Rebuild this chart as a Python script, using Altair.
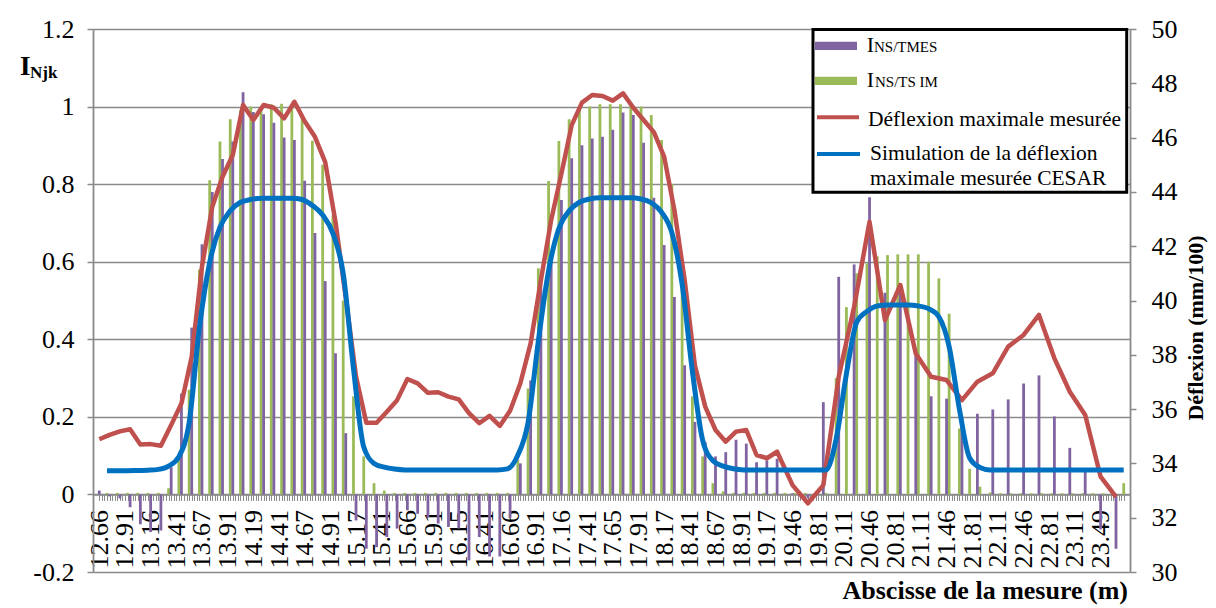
import altair as alt
import pandas as pd

# ---------------- data ----------------
x_labels = ['12.66', '12.91', '13.16', '13.41', '13.67', '13.91', '14.19', '14.41', '14.67', '14.91',
            '15.17', '15.41', '15.66', '15.91', '16.15', '16.41', '16.66', '16.91', '17.16', '17.41',
            '17.65', '17.91', '18.17', '18.41', '18.67', '18.91', '19.17', '19.46', '19.81', '20.11',
            '20.46', '20.81', '21.11', '21.46', '21.81', '22.11', '22.46', '22.81', '23.11', '23.49']

# category index along the x axis (400 categories, one label every 10)
mes_pos = [0, 4, 8, 12, 16, 20, 24, 28, 32, 36, 40, 44, 48, 52, 56, 60, 64, 68, 72, 76,
           80, 84, 88, 92, 96, 100, 104, 108, 112, 116, 120, 124, 128, 132, 136, 140, 144, 148, 152, 156,
           160, 164, 168, 172, 176, 180, 184, 188, 192, 196, 200, 204, 208, 212, 216, 220, 224, 228, 232, 236,
           240, 244, 248, 252, 256, 260, 264,
           270, 276, 282, 288, 294, 300, 306, 312, 318, 324, 330, 336, 342, 348, 354, 360, 366, 372, 378, 384,
           390, 396]

ins_tmes = [0.01, -0.005, -0.01, -0.033, -0.077, -0.097, -0.093, 0.07, 0.26, 0.43,
            0.645, 0.78, 0.865, 0.91, 1.037, 0.986, 0.98, 0.958, 0.92, 0.914,
            0.809, 0.674, 0.55, 0.364, 0.158, -0.067, -0.14, -0.136, -0.11, -0.088,
            -0.041, -0.05, -0.059, -0.075, -0.084, -0.088, -0.17, -0.11, -0.16, -0.16,
            -0.06, 0.08, 0.294, 0.55, 0.62, 0.759, 0.867, 0.90, 0.918, 0.922,
            0.94, 0.985, 0.978, 0.907, 0.765, 0.643, 0.509, 0.333, 0.187, 0.135,
            0.098, 0.109, 0.141, 0.131, 0.083, 0.088, 0.092,
            0.003, -0.01, 0.238, 0.561, 0.593, 0.766, 0.52, 0.539, 0.359, 0.253,
            0.247, 0.2, 0.208, 0.219, 0.245, 0.286, 0.307, 0.201, 0.12, 0.06,
            -0.09, -0.14]

deflexion_mesuree = [34.89, 35.05, 35.18, 35.26, 34.7, 34.71, 34.65, 35.41, 36.21, 37.93,
                     41.25, 43.45, 44.56, 45.36, 47.2, 46.65, 47.2, 47.1, 46.71, 47.32,
                     46.6, 46.03, 45.1, 42.9, 40.1, 37.2, 35.5, 35.5, 35.9, 36.33,
                     37.11, 36.95, 36.6, 36.62, 36.46, 36.36, 35.85, 35.48, 35.75, 35.38,
                     35.94, 36.95, 38.42, 40.75, 42.96, 44.68, 46.46, 47.29, 47.57, 47.53,
                     47.36, 47.63, 47.1, 46.65, 46.2, 45.3, 43.33, 40.75, 37.6, 36.09,
                     35.23, 34.8, 35.17, 35.23, 34.31, 34.19, 34.43,
                     33.2, 32.53, 33.2, 37.19, 39.77, 42.9, 39.28, 40.57, 38.05, 37.19,
                     37.07, 36.33, 37.01, 37.32, 38.3, 38.73, 39.47, 37.87, 36.64, 35.78,
                     33.51, 32.77]

sim_pos = [3, 7, 11, 15, 19, 23, 27, 31, 35, 39, 43, 47, 51, 55, 59, 63, 67, 71, 75, 79,
           83, 87, 91, 95, 99, 103, 107, 111, 115, 119, 123, 127, 131, 135, 139, 143, 147, 151, 155, 159,
           163, 167, 171, 175, 179, 183, 187, 191, 195, 199, 203, 207, 211, 215, 219, 223, 227, 231, 235, 239,
           243, 247, 251, 255, 259, 263, 267, 271, 275, 279, 283, 287, 291, 295, 299, 303, 307, 311, 315, 319,
           323, 327, 331, 335, 339, 343, 347, 351, 355, 359, 363, 367, 371, 375, 379, 383, 387, 391, 395, 399]

ins_tsim = [0.004, 0.004, 0.004, 0.004, 0.004, 0.004, 0.016, 0.1, 0.27, 0.58,
            0.81, 0.91, 0.967, 0.99, 1.0, 1.0, 1.006, 1.007, 1.0, 0.978,
            0.912, 0.85, 0.72, 0.5, 0.253, 0.098, 0.029, 0.01, 0.004, 0.004,
            0.004, 0.004, 0.004, 0.004, 0.004, 0.004, 0.004, 0.004, 0.004, 0.004,
            0.09, 0.273, 0.583, 0.808, 0.911, 0.967, 0.991, 1.0, 1.006, 1.006,
            1.006, 1.006, 1.0, 0.978, 0.914, 0.8, 0.58, 0.253, 0.098, 0.029,
            0.008, 0.004, 0.004, 0.004, 0.004, 0.004, 0.004, 0.004, 0.004, 0.004,
            0.004, 0.3, 0.483, 0.57, 0.596, 0.614, 0.617, 0.619, 0.619, 0.619,
            0.6, 0.557, 0.466, 0.17, 0.066, 0.02, 0.005, 0.003, 0.003, 0.003,
            0.003, 0.003, 0.003, 0.003, 0.003, 0.003, 0.003, 0.003, 0.003, 0.029]

deflexion_cesar = [33.73, 33.73, 33.73, 33.74, 33.75, 33.78, 33.9, 34.25, 35.5, 39.0,
                   41.4, 42.7, 43.3, 43.62, 43.72, 43.77, 43.77, 43.77, 43.77, 43.72,
                   43.5, 43.15, 42.47, 41.0, 37.5, 34.6, 34.0, 33.86, 33.79, 33.76,
                   33.76, 33.76, 33.76, 33.76, 33.76, 33.76, 33.76, 33.76, 33.76, 33.8,
                   34.3, 35.5, 38.5, 41.1, 42.65, 43.3, 43.62, 43.74, 43.78, 43.78,
                   43.78, 43.78, 43.74, 43.6, 43.25, 42.5, 40.6, 37.4, 34.86, 34.1,
                   33.9, 33.8, 33.76, 33.76, 33.76, 33.76, 33.76, 33.76, 33.76, 33.76,
                   33.76, 34.9, 37.3, 39.2, 39.6, 39.8, 39.83, 39.83, 39.83, 39.8,
                   39.7, 39.4, 38.3, 36.0, 34.2, 33.85, 33.76, 33.76, 33.76, 33.76,
                   33.76, 33.76, 33.76, 33.76, 33.76, 33.76, 33.76, 33.76, 33.76, 33.76]

left_ticks = [-0.2, 0, 0.2, 0.4, 0.6, 0.8, 1.0, 1.2]
right_ticks = [30, 32, 34, 36, 38, 40, 42, 44, 46, 48, 50]

# ---------------- styling ----------------
FONT = "'Liberation Serif', 'Times New Roman', Times, 'DejaVu Serif', serif"
PURPLE = '#8064A2'
GREEN = '#9BBB59'
RED = '#C0504D'
BLUE = '#0070C0'
GRID = '#8A8A8A'
W, H = 1037, 543
Y0_OFFSET = -(H - H * 1.2 / 1.4)   # x axis crosses the left axis at 0

df_mes = pd.DataFrame({'pos': mes_pos, 'ins': ins_tmes, 'defl': deflexion_mesuree})
df_sim = pd.DataFrame({'pos': sim_pos, 'ins': ins_tsim, 'defl': deflexion_cesar})

label_array = '[' + ','.join("'" + s + "'" for s in x_labels) + ']'
x_axis = alt.Axis(values=list(range(0, 400)), title='', grid=False,
                  labelExpr="datum.value % 10 == 0 ? " + label_array + "[datum.value / 10] : ''",
                  labelAngle=-90, labelFont=FONT, labelFontSize=26, labelColor='black',
                  labelPadding=9, labelOverlap=False, labelFlush=False, labelBound=False,
                  tickSize=6, tickColor=GRID, tickWidth=1, domainColor=GRID, domainWidth=1.8,
                  offset=Y0_OFFSET)
x_enc = alt.X('pos:Q', scale=alt.Scale(domain=[-0.5, 399.5], nice=False, zero=False), axis=x_axis)

left_axis = alt.Axis(values=left_ticks, title='', orient='left', grid=True, gridColor=GRID, gridWidth=1.6,
                     labelExpr='toString(round(datum.value * 10) / 10)',
                     labelFont=FONT, labelFontSize=26, labelColor='black', labelPadding=13,
                     tickSize=6, tickColor=GRID, tickWidth=1.5, domainColor=GRID, domainWidth=1.8)
y_left = alt.Y('ins:Q', scale=alt.Scale(domain=[-0.2, 1.2], nice=False), axis=left_axis)

right_axis = alt.Axis(values=right_ticks, title='', orient='right', grid=False,
                      labelFont=FONT, labelFontSize=26, labelColor='black', labelPadding=15,
                      tickSize=6, tickColor=GRID, tickWidth=1.5, domainColor=GRID, domainWidth=1.8)
y_right = alt.Y('defl:Q', scale=alt.Scale(domain=[30, 50], nice=False, zero=False), axis=right_axis)

green_bars = alt.Chart(df_sim).mark_bar(size=2.8, color=GREEN).encode(x=x_enc, y=y_left)
purple_bars = alt.Chart(df_mes).mark_bar(size=2.8, color=PURPLE).encode(x=x_enc, y=y_left)
bars = alt.layer(green_bars, purple_bars)

red_line = alt.Chart(df_mes).mark_line(color=RED, strokeWidth=4.5, strokeJoin='round').encode(x=x_enc, y=y_right)
blue_line = alt.Chart(df_sim).mark_line(color=BLUE, strokeWidth=5, interpolate='monotone',
                                        strokeJoin='round').encode(x=x_enc, y=y_right)
lines = alt.layer(red_line, blue_line)


def txt(t, x, y, size=21, bold=False, align='left', angle=0):
    kw = dict(align=align, baseline='alphabetic', font=FONT, fontSize=size, color='black')
    if bold:
        kw['fontWeight'] = 'bold'
    if angle:
        kw['angle'] = angle
    return alt.Chart(pd.DataFrame({'t': [t]})).mark_text(**kw).encode(
        x=alt.value(x), y=alt.value(y), text='t:N')


def box(x1, x2, y1, y2, fill, stroke=None, sw=0):
    kw = dict(fill=fill)
    if stroke:
        kw.update(stroke=stroke, strokeWidth=sw)
    return alt.Chart(pd.DataFrame({'a': [0]})).mark_rect(**kw).encode(
        x=alt.value(x1), x2=alt.value(x2), y=alt.value(y1), y2=alt.value(y2))


def seg(x1, x2, y, color, sw):
    return alt.Chart(pd.DataFrame({'a': [0]})).mark_rule(color=color, strokeWidth=sw).encode(
        x=alt.value(x1), x2=alt.value(x2), y=alt.value(y))


legend = alt.layer(
    box(720, 1033.7, 0.5, 163.3, 'white', 'black', 3),
    box(722, 764, 12.7, 21, PURPLE),
    txt('I', 773.7, 23.3, size=22),
    txt('NS/TMES', 781, 23.3, size=15),
    box(722, 764, 47.7, 56, GREEN),
    txt('I', 773.7, 57.7, size=22),
    txt('NS/TS IM', 782, 57.7, size=15),
    seg(724, 766, 88.3, RED, 4),
    txt('Déflexion maximale mesurée', 775, 97, size=21.5),
    seg(724, 767, 125, BLUE, 4),
    txt('Simulation de la déflexion', 777, 131, size=21.5),
    txt('maximale mesurée CESAR', 777, 156, size=21.5),
)

titles = alt.layer(
    txt('I', -73, 46, size=27, bold=True),
    txt('Njk', -63, 49, size=17, bold=True),
    txt('Abscisse de la mesure (m)', 1035, 570, size=26, bold=True, align='right'),
    txt('Déflexion (mm/100)', 1110, 299, size=22, bold=True, align='center', angle=270),
)

chart = alt.layer(bars, lines, legend, titles).resolve_scale(y='independent').properties(
    width=W, height=H,
    autosize=alt.AutoSizeParams(type='none'),
    padding={'left': 85, 'top': 21, 'right': 78, 'bottom': 34},
).configure_view(stroke='transparent')

chart.save('out.html', embed_options={'renderer': 'svg', 'actions': False})
